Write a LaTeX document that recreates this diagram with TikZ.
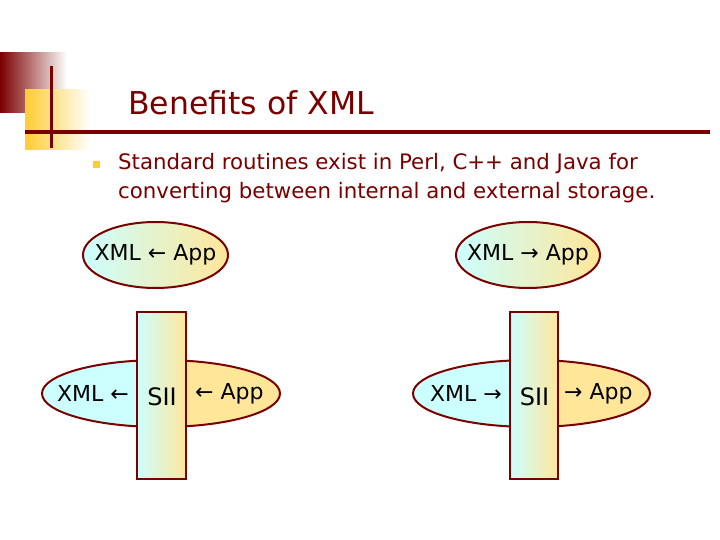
\documentclass[tikz,border=0pt]{standalone}
\usepackage{fontspec}
\setmainfont{DejaVu Sans}
\usepackage{tikz}
\usetikzlibrary{positioning,shapes.geometric}
\usepackage{xcolor}
\definecolor{maroon}{RGB}{122,0,0}
\definecolor{gold}{RGB}{255,204,51}
\definecolor{icecyan}{RGB}{204,255,255}
\definecolor{butter}{RGB}{255,230,153}

\begin{document}
\begin{tikzpicture}[
  x=1pt, y=-1pt,
  oval/.style={draw=maroon, line width=2pt, ellipse, inner sep=0pt},
  bar/.style={draw=maroon, line width=2pt, rectangle, inner sep=0pt, left color=icecyan, right color=butter},
  word/.style={inner sep=0pt, font=\fontsize{22}{26}\selectfont},
]
  \useasboundingbox (0,0) rectangle (720,540);
  % slide decoration
  \shade[left color=maroon, right color=white] (0,53) rectangle (67,113);
  \shade[left color=gold, right color=white] (25,90) rectangle (90,150);
  \draw[maroon, line width=3pt] (51,66) -- (51,148);
  \draw[maroon, line width=4pt] (25,132) -- (710,132);
  \node[anchor=base west, inner sep=0pt, text=maroon, font=\fontsize{31.5}{36}\selectfont] (title) at (128,115) {Benefits of XML};
  \fill[gold] (93,161) rectangle (100,168);
  \node[anchor=base west, inner sep=0pt, text=maroon, font=\fontsize{21.3}{29}\selectfont] (line1) at (118,170) {Standard routines exist in Perl, C++ and Java for};
  \node[anchor=base west, inner sep=0pt, text=maroon, font=\fontsize{21.3}{29}\selectfont] (line2) at (118,199) {converting between internal and external storage.};
  % direct conversion
  \node[oval, minimum width=145, minimum height=66, left color=icecyan, right color=butter] (toxml) at (155.5,255) {};
  \node[word] (toxmltxt) at (toxml) {XML ← App};
  \node[oval, minimum width=144, minimum height=66, left color=icecyan, right color=butter] (toapp) at (528,255) {};
  \node[word] (toapptxt) at (toapp) {XML → App};
  % conversion via SII, left
  \node[oval, minimum width=238, minimum height=67,
    path picture={\fill[icecyan] (path picture bounding box.south west) rectangle ([xshift=0.5pt]path picture bounding box.north);
                  \fill[butter] ([xshift=0.5pt]path picture bounding box.south) rectangle (path picture bounding box.north east);}] (viaL) at (161,393.5) {};
  \node[bar, minimum width=49, minimum height=167] (siiL) at (161.5,395.5) {};
  \node[word, font=\fontsize{24}{28}\selectfont] (siiLtxt) at (162,397) {SII};
  \node[word, left=7 of siiL.west |- viaL] (xmlL) {XML ←};
  \node[word, right=8 of siiL.east |- viaL] (appL) {← App};
  % conversion via SII, right
  \node[oval, minimum width=237, minimum height=67,
    path picture={\fill[icecyan] (path picture bounding box.south west) rectangle ([xshift=2.5pt]path picture bounding box.north);
                  \fill[butter] ([xshift=2.5pt]path picture bounding box.south) rectangle (path picture bounding box.north east);}] (viaR) at (531.5,393.5) {};
  \node[bar, minimum width=48, minimum height=167] (siiR) at (534,395.5) {};
  \node[word, font=\fontsize{24}{28}\selectfont] (siiRtxt) at (534.5,397) {SII};
  \node[word, left=7 of siiR.west |- viaR] (xmlR) {XML →};
  \node[word, right=5 of siiR.east |- viaR] (appR) {→ App};
\end{tikzpicture}
\end{document}
